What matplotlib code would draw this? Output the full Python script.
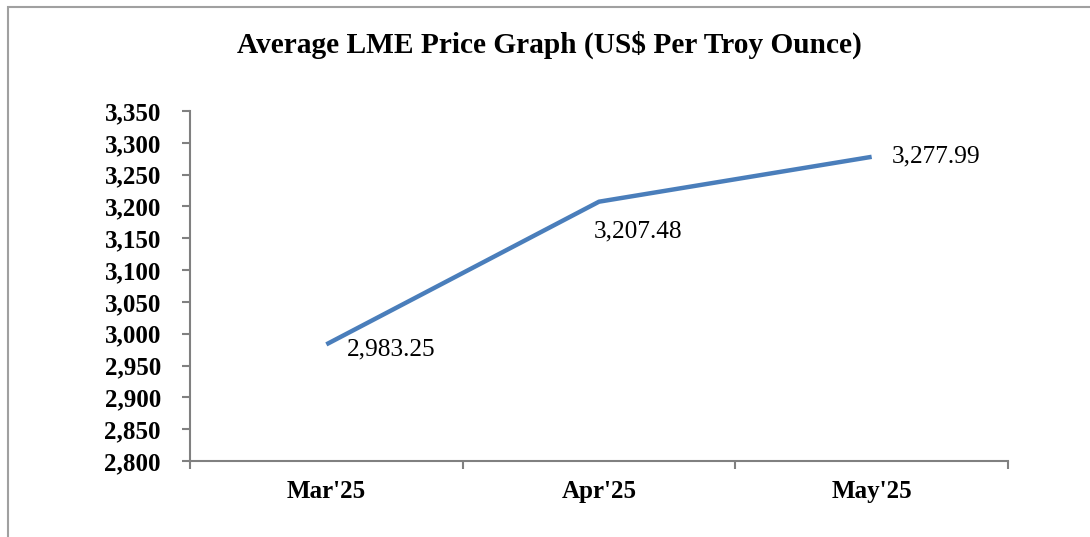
import matplotlib
matplotlib.use("Agg")
import matplotlib.pyplot as plt
from matplotlib.patches import Rectangle

categories = ["Mar'25", "Apr'25", "May'25"]
prices = [2983.25, 3207.48, 3277.99]
price_labels = ["2,983.25", "3,207.48", "3,277.99"]
yticks = list(range(2800, 3351, 50))

plt.rcParams['font.family'] = ['Liberation Serif', 'DejaVu Serif']

fig = plt.figure(figsize=(10.9, 5.37), dpi=100)
ax = fig.add_axes([190/1090, 1-461/537, (1008-190)/1090, (461-111)/537])

x = list(range(len(categories)))
ax.plot(x, prices, color='#4a7ebb', lw=3.2, solid_capstyle='butt', solid_joinstyle='round')

ax.set_xlim(-0.5, len(categories)-0.5)
ax.set_ylim(2800, 3350)
ax.set_yticks(yticks)
ax.set_yticklabels([f"{v:,}" for v in yticks], fontsize=18, fontweight='bold')
ax.set_xticks(x)
ax.set_xticklabels(categories, fontsize=18, fontweight='bold')
ax.tick_params(axis='x', length=0, pad=14)
ax.set_xticks([i-0.5 for i in range(len(categories)+1)], minor=True)
ax.tick_params(axis='x', which='minor', length=6, width=1.5, color='#808080', direction='out')
ax.tick_params(axis='y', length=6, width=1.5, color='#808080', direction='out', pad=15)

for s in ['top', 'right']:
    ax.spines[s].set_visible(False)
for s in ['left', 'bottom']:
    ax.spines[s].set_color('#808080')
    ax.spines[s].set_linewidth(1.5)

offsets = [(21, -5, 'left'), (39, -30, 'center'), (20, 0, 'left')]
for xi, yi, lab, (dx, dy, ha) in zip(x, prices, price_labels, offsets):
    ax.annotate(lab, (xi, yi), xytext=(dx*0.72, dy*0.72), textcoords='offset points',
                ha=ha, va='center', fontsize=18.3, color='black')

fig.text(549/1090, 1-45/537, "Average LME Price Graph (US$ Per Troy Ounce)",
         ha='center', va='center', fontsize=21.2, fontweight='bold')

fig.patches.append(Rectangle((8/1090, -0.05), 1.1, 1-7/537+0.05, transform=fig.transFigure,
                             fill=False, edgecolor='#a0a0a0', linewidth=1.5))

fig.savefig('out.png', dpi=100)
